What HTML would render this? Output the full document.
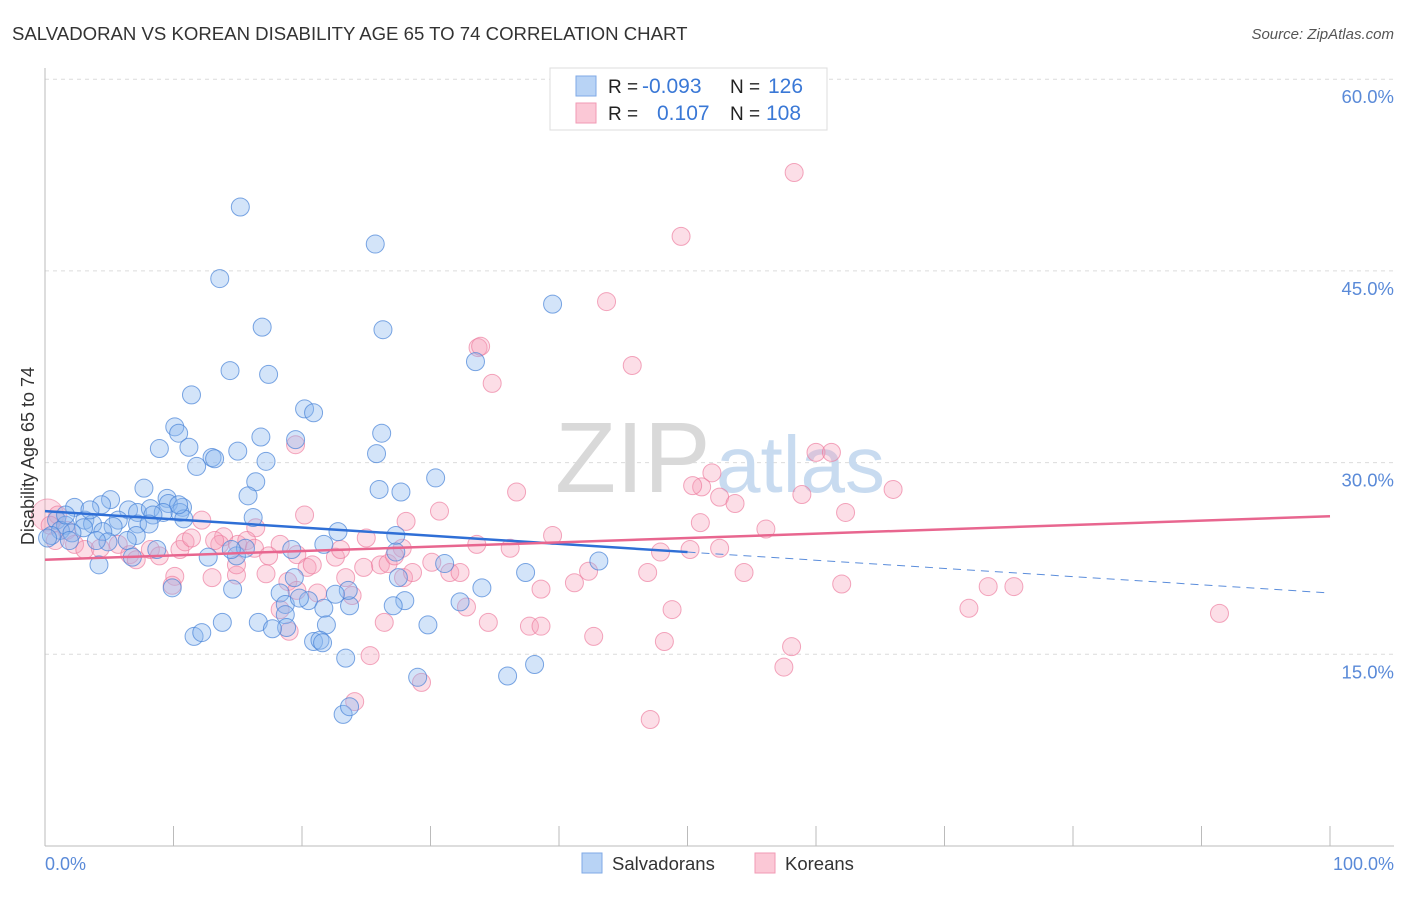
<!DOCTYPE html>
<html><head><meta charset="utf-8">
<style>
html,body{margin:0;padding:0;background:#fff;}
body{width:1406px;height:892px;overflow:hidden;font-family:"Liberation Sans",sans-serif;}
svg text{font-family:"Liberation Sans",sans-serif;}
</style></head>
<body>
<svg id="chart" width="1406" height="892">
  <text x="12" y="40" font-size="18.6" fill="#333">SALVADORAN VS KOREAN DISABILITY AGE 65 TO 74 CORRELATION CHART</text>
  <text x="1394" y="39" font-size="15" fill="#555" text-anchor="end" font-style="italic">Source: ZipAtlas.com</text>
  <g id="grid"></g>
  <g id="watermark">
    <text x="555" y="492" font-size="100" fill="#d9d9d9" font-family="Liberation Serif, serif">ZIP</text>
    <text x="716" y="492" font-size="80" fill="#c8dbf0">atlas</text>
  </g>
  <g id="axes"></g>
  <g id="pts"></g>
  <g id="trends"></g>
  <text x="-456" y="34" transform="rotate(-90)" font-size="18" fill="#333" text-anchor="middle">Disability Age 65 to 74</text>
  <text x="45" y="870" font-size="18" fill="#5a8ad8">0.0%</text>
  <text x="1394" y="870" font-size="18" fill="#5a8ad8" text-anchor="end">100.0%</text>
  <g>
    <rect x="550" y="68" width="277" height="62" fill="#fff" stroke="#ddd"/>
    <rect x="576" y="76" width="20" height="20" fill="#b8d3f5" stroke="#7fa9e6"/>
    <rect x="576" y="103" width="20" height="20" fill="#fbc8d6" stroke="#f19ab4"/>
    <text x="608" y="93" font-size="19" fill="#222">R =</text>
    <text x="642" y="93" font-size="21" fill="#3a78d6">-0.093</text>
    <text x="730" y="93" font-size="19" fill="#222">N =</text>
    <text x="768" y="93" font-size="21" fill="#3a78d6">126</text>
    <text x="608" y="120" font-size="19" fill="#222">R =</text>
    <text x="657" y="120" font-size="21" fill="#3a78d6">0.107</text>
    <text x="730" y="120" font-size="19" fill="#222">N =</text>
    <text x="766" y="120" font-size="21" fill="#3a78d6">108</text>
  </g>
  <g>
    <rect x="582" y="853" width="20" height="20" fill="#b8d3f5" stroke="#7fa9e6"/>
    <text x="612" y="870" font-size="18.5" fill="#333">Salvadorans</text>
    <rect x="755" y="853" width="20" height="20" fill="#fbc8d6" stroke="#f19ab4"/>
    <text x="785" y="870" font-size="18.5" fill="#333">Koreans</text>
  </g>
</svg>
<script>
const yTicks = [15, 30, 45, 60];
const yTickLabels = ["15.0%", "30.0%", "45.0%", "60.0%"];
const xTicks = [0,10,20,30,40,50,60,70,80,90,100];
const salvX = [15.2,25.7,13.6,39.5,16.9,26.3,33.5,14.4,17.4,11.4,20.2,20.9,10.1,10.4,26.2,19.5,16.8,8.9,11.2,15.0,13.0,13.2,25.8,17.2,11.8,30.4,7.7,16.4,26.0,27.7,15.8,5.1,9.5,9.6,4.4,2.3,6.5,7.2,8.2,10.7,10.5,9.2,8.4,10.8,16.2,5.7,3.1,0.9,1.6,3.7,5.3,7.2,8.1,1.2,4.5,7.1,3.0,0.5,2.1,1.9,6.4,4.9,4.0,8.7,14.9,15.6,22.8,14.5,19.2,21.7,27.3,27.3,31.1,37.4,43.1,12.7,4.2,6.8,9.9,14.6,18.3,19.4,27.5,34.0,20.5,18.7,21.7,23.7,28.0,32.3,23.6,13.8,16.6,18.7,21.9,29.8,11.6,12.2,18.8,20.9,21.4,21.6,23.4,38.1,36.0,29.0,23.2,23.7,17.7,19.8,22.6,27.1,10.4,1.6,3.5,0.2];
const salvY = [50.0,47.1,44.4,42.4,40.6,40.4,37.9,37.2,36.9,35.3,34.2,33.9,32.8,32.3,32.3,31.8,32.0,31.1,31.2,30.9,30.4,30.3,30.7,30.1,29.7,28.8,28.0,28.5,27.9,27.7,27.4,27.1,27.2,26.8,26.7,26.5,26.3,26.1,26.4,26.5,26.1,26.1,25.9,25.6,25.7,25.5,25.5,25.5,25.1,25.2,25.0,25.2,25.2,24.7,24.6,24.3,24.9,24.3,24.5,23.9,23.9,23.8,23.9,23.2,22.7,23.3,24.6,23.2,23.2,23.6,24.3,23.0,22.1,21.4,22.3,22.6,22.0,22.6,20.2,20.1,19.8,21.0,21.0,20.2,19.2,18.9,18.6,18.8,19.2,19.1,20.0,17.5,17.5,18.1,17.3,17.3,16.4,16.7,17.1,16.0,16.1,15.9,14.7,14.2,13.3,13.2,10.3,10.9,17.0,19.4,19.7,18.8,26.7,25.9,26.3,24.1];
const korX = [58.3,49.5,43.7,33.7,33.9,45.7,34.8,19.5,60.0,61.2,51.9,51.1,50.4,52.5,53.7,58.9,66.0,36.7,30.7,62.3,51.0,56.1,28.1,20.2,12.2,39.5,33.6,36.2,13.9,13.6,15.0,18.3,27.8,50.2,47.9,52.5,16.4,1.0,0.4,1.7,0.8,2.3,3.1,4.3,5.7,6.6,7.1,8.2,8.9,10.5,10.9,11.4,13.2,15.7,16.3,17.4,19.6,20.4,20.8,22.6,23.0,25.0,26.1,26.7,27.2,27.9,28.6,30.1,31.5,32.3,41.2,42.3,46.9,54.4,10.1,13.0,14.9,17.2,14.9,18.9,23.4,24.8,9.9,19.6,21.2,23.9,32.8,38.6,48.8,62.0,71.9,73.4,75.4,91.4,18.3,26.4,37.7,38.6,34.5,42.7,48.2,58.1,57.5,19.0,25.3,29.3,24.1,47.1,0.2];
const korY = [52.7,47.7,42.6,39.0,39.1,37.6,36.2,31.4,30.8,30.8,29.2,28.1,28.2,27.3,26.8,27.5,27.9,27.7,26.2,26.1,25.3,24.8,25.4,25.9,25.5,24.3,23.6,23.3,24.2,23.6,23.6,23.6,23.3,23.2,23.0,23.3,24.9,25.9,25.1,24.7,23.9,23.6,23.2,23.3,23.6,22.8,22.4,23.2,22.7,23.2,23.8,24.1,23.9,23.9,23.3,22.7,22.8,21.8,22.0,22.6,23.2,24.1,22.0,22.1,22.7,21.0,21.4,22.2,21.4,21.4,20.6,21.5,21.4,21.4,21.1,21.0,21.2,21.3,22.0,20.7,21.0,21.8,20.4,20.0,19.8,19.6,18.7,20.1,18.5,20.5,18.6,20.3,20.3,18.2,18.5,17.5,17.2,17.2,17.5,16.4,16.0,15.6,14.0,16.8,14.9,12.8,11.3,9.9,25.9];
const salvTrend = [26.2, -0.064];
const korTrend = [22.4, 0.034];

const NS = "http://www.w3.org/2000/svg";
const X0 = 45, X1 = 1330, Y0 = 846, PXPCT = 12.78;
function sx(v){ return X0 + v/100*(X1-X0); }
function sy(v){ return Y0 - v*PXPCT; }
function mk(tag, attrs, parent){
  const e = document.createElementNS(NS, tag);
  for (const k in attrs) e.setAttribute(k, attrs[k]);
  parent.appendChild(e);
  return e;
}
const grid = document.getElementById('grid');
yTicks.forEach((t,i)=>{
  const l = mk('line',{x1:X0,x2:1394,y1:sy(t),y2:sy(t),stroke:'#dcdcdc','stroke-dasharray':'4,4'},grid);
  
  
  const tx = mk('text',{x:1394,y:sy(t)+24,'font-size':18.5,fill:'#5a8ad8','text-anchor':'end'},grid);
  tx.textContent = yTickLabels[i];
  
  
});
const axes = document.getElementById('axes');
const ya = mk('line',{x1:X0,x2:X0,y1:68,y2:Y0,stroke:'#bbb'},axes);


const xa = mk('line',{x1:X0,x2:1394,y1:Y0,y2:Y0,stroke:'#bbb'},axes);


xTicks.forEach(t=>{
  const l = mk('line',{x1:sx(t),x2:sx(t),y1:Y0,y2:Y0-20,stroke:'#bbb'},axes);
  
  
});
const pts = document.getElementById('pts');
const big = mk('circle',{cx:sx(korX[korX.length-1]),cy:sy(korY[korY.length-1]),r:16,fill:'rgba(246,160,185,0.35)',stroke:'rgba(236,130,160,0.6)'},pts);


korX.forEach((v,i)=>{
  if (i === korX.length-1) return;
  const c = mk('circle',{cx:sx(v),cy:sy(korY[i]),r:9,fill:'rgba(246,160,185,0.35)',stroke:'rgba(236,120,155,0.65)','stroke-width':1},pts);
  
  
});
salvX.forEach((v,i)=>{
  const c = mk('circle',{cx:sx(v),cy:sy(salvY[i]),r:9,fill:'rgba(140,185,240,0.38)',stroke:'rgba(70,130,215,0.7)','stroke-width':1},pts);
  
  
});
const tr = document.getElementById('trends');
const b1 = mk('line',{x1:sx(0),y1:sy(salvTrend[0]),x2:sx(50),y2:sy(salvTrend[0]+salvTrend[1]*50),stroke:'#2f6fd6','stroke-width':2.5},tr);


const b2 = mk('line',{x1:sx(50),y1:sy(salvTrend[0]+salvTrend[1]*50),x2:sx(100),y2:sy(salvTrend[0]+salvTrend[1]*100),stroke:'#5b8ddb','stroke-width':1,'stroke-dasharray':'8,6'},tr);


const p1 = mk('line',{x1:sx(0),y1:sy(korTrend[0]),x2:sx(100),y2:sy(korTrend[0]+korTrend[1]*100),stroke:'#e8668f','stroke-width':2.5},tr);


</script>
</body></html>
